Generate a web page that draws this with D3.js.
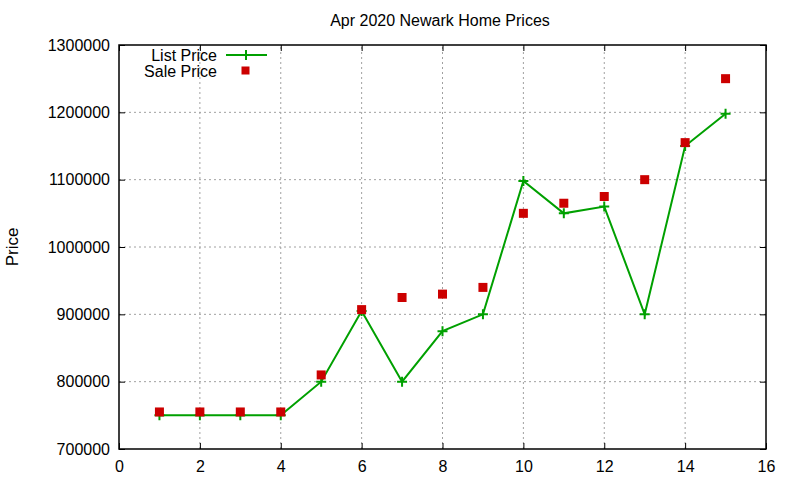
<!DOCTYPE html>
<html>
<head>
<meta charset="utf-8">
<script src="https://cdn.jsdelivr.net/npm/d3@7"></script>
<style>
    body { margin: 0; background: #fff; }
    text { font-family: "Liberation Sans", Arial, sans-serif; }
</style>
</head>
<body>
<svg id="SVG_CONTAINER" width="800" height="480"></svg>
<script>
// data
const months = [1, 2, 3, 4, 5, 6, 7, 8, 9, 10, 11, 12, 13, 14, 15];
const listPrice = [750000, 750000, 750000, 750000, 800000, 905000, 800000, 875000, 900000, 1098000, 1050000, 1060000, 900000, 1150000, 1198000];
const salePrice = [755000, 755000, 755000, 755000, 810000, 907000, 925000, 930000, 940000, 1050000, 1065000, 1075000, 1100000, 1155000, 1250000];
const xTicks = [0, 2, 4, 6, 8, 10, 12, 14, 16];
const yTicks = [700000, 800000, 900000, 1000000, 1100000, 1200000, 1300000];

const MARGIN = { LEFT: 119, RIGHT: 34, TOP: 45, BOTTOM: 31 };
const width = 800, height = 480;

const GREEN = "#00a000", RED = "#cc0000";

let svg = d3.select("#SVG_CONTAINER");

let xScale = d3.scaleLinear()
    .domain([0, 16])
    .range([MARGIN.LEFT, width - MARGIN.RIGHT]);

let yScale = d3.scaleLinear()
    .domain([700000, 1300000])
    .range([height - MARGIN.BOTTOM, MARGIN.TOP]);

//** GRID *****************************************
let grid = svg.append("g");
xTicks.slice(1, -1).forEach(t => {
    grid.append("line")
        .attr("x1", xScale(t)).attr("x2", xScale(t))
        .attr("y1", yScale(700000)).attr("y2", yScale(1300000))
        .style("stroke", "#a0a0a0").style("stroke-dasharray", "2,3");
});
yTicks.slice(1, -1).forEach(t => {
    grid.append("line")
        .attr("x1", xScale(0)).attr("x2", xScale(16))
        .attr("y1", yScale(t)).attr("y2", yScale(t))
        .style("stroke", "#a0a0a0").style("stroke-dasharray", "2,3");
});

//** AXES (gnuplot style, ticks inward, mirrored) *****************************************
let xAxis = d3.axisBottom(xScale).tickValues(xTicks).tickSizeInner(-6).tickSizeOuter(0).tickPadding(12);
let xAxisTop = d3.axisTop(xScale).tickValues(xTicks).tickSizeInner(-6).tickSizeOuter(0).tickFormat("");
let yAxis = d3.axisLeft(yScale).tickValues(yTicks).tickSizeInner(-6).tickSizeOuter(0).tickPadding(9).tickFormat(d3.format("d"));
let yAxisRight = d3.axisRight(yScale).tickValues(yTicks).tickSizeInner(-6).tickSizeOuter(0).tickFormat("");

function styleAxis(g) {
    g.select(".domain").remove();
    g.selectAll("line").style("stroke", "#000");
    g.selectAll("text").style("font-size", "16px").style("fill", "#000")
        .style("font-family", "'Liberation Sans', Arial, sans-serif");
}

svg.append("g").attr("transform", "translate(0," + (height - MARGIN.BOTTOM) + ")").call(xAxis).call(styleAxis);
svg.append("g").attr("transform", "translate(0," + MARGIN.TOP + ")").call(xAxisTop).call(styleAxis);
svg.append("g").attr("transform", "translate(" + MARGIN.LEFT + ",0)").call(yAxis).call(styleAxis);
svg.append("g").attr("transform", "translate(" + (width - MARGIN.RIGHT) + ",0)").call(yAxisRight).call(styleAxis);

svg.append("rect")
    .attr("x", xScale(0)).attr("y", yScale(1300000))
    .attr("width", xScale(16) - xScale(0))
    .attr("height", yScale(700000) - yScale(1300000))
    .style("fill", "none").style("stroke", "#000").style("stroke-width", 1.5);

//** TITLES *****************************************
svg.append("text")
    .attr("x", 440).attr("y", 26)
    .attr("text-anchor", "middle")
    .style("font-size", "16px")
    .text("Apr 2020 Newark Home Prices");

svg.append("text")
    .attr("text-anchor", "middle")
    .attr("transform", "translate(18,247) rotate(-90)")
    .style("font-size", "17px")
    .text("Price");

//** DATA *****************************************
let line = d3.line()
    .x((d, i) => xScale(months[i]))
    .y(d => yScale(d));

svg.append("path")
    .datum(listPrice)
    .attr("d", line)
    .style("fill", "none").style("stroke", GREEN).style("stroke-width", 2);

function plus(g, x, y) {
    g.append("path")
        .attr("d", "M" + (x - 5) + "," + y + "H" + (x + 5) + "M" + x + "," + (y - 5) + "V" + (y + 5))
        .style("stroke", GREEN).style("stroke-width", 2);
}

let pts = svg.append("g");
listPrice.forEach((v, i) => plus(pts, xScale(months[i]), yScale(v)));

svg.append("g")
    .selectAll("rect")
    .data(salePrice)
    .enter()
    .append("rect")
    .attr("x", (d, i) => xScale(months[i]) - 4.5)
    .attr("y", d => yScale(d) - 4.5)
    .attr("width", 9).attr("height", 9)
    .style("fill", RED);

//** LEGEND *****************************************
svg.append("text")
    .attr("x", 217).attr("y", 61)
    .attr("text-anchor", "end")
    .style("font-size", "16px")
    .text("List Price");
svg.append("line")
    .attr("x1", 226).attr("x2", 267).attr("y1", 55).attr("y2", 55)
    .style("stroke", GREEN).style("stroke-width", 2);
plus(svg, 246, 55);

svg.append("text")
    .attr("x", 217).attr("y", 77)
    .attr("text-anchor", "end")
    .style("font-size", "16px")
    .text("Sale Price");
svg.append("rect")
    .attr("x", 241.5).attr("y", 66.5).attr("width", 8).attr("height", 8)
    .style("fill", RED);
</script>
</body>
</html>
